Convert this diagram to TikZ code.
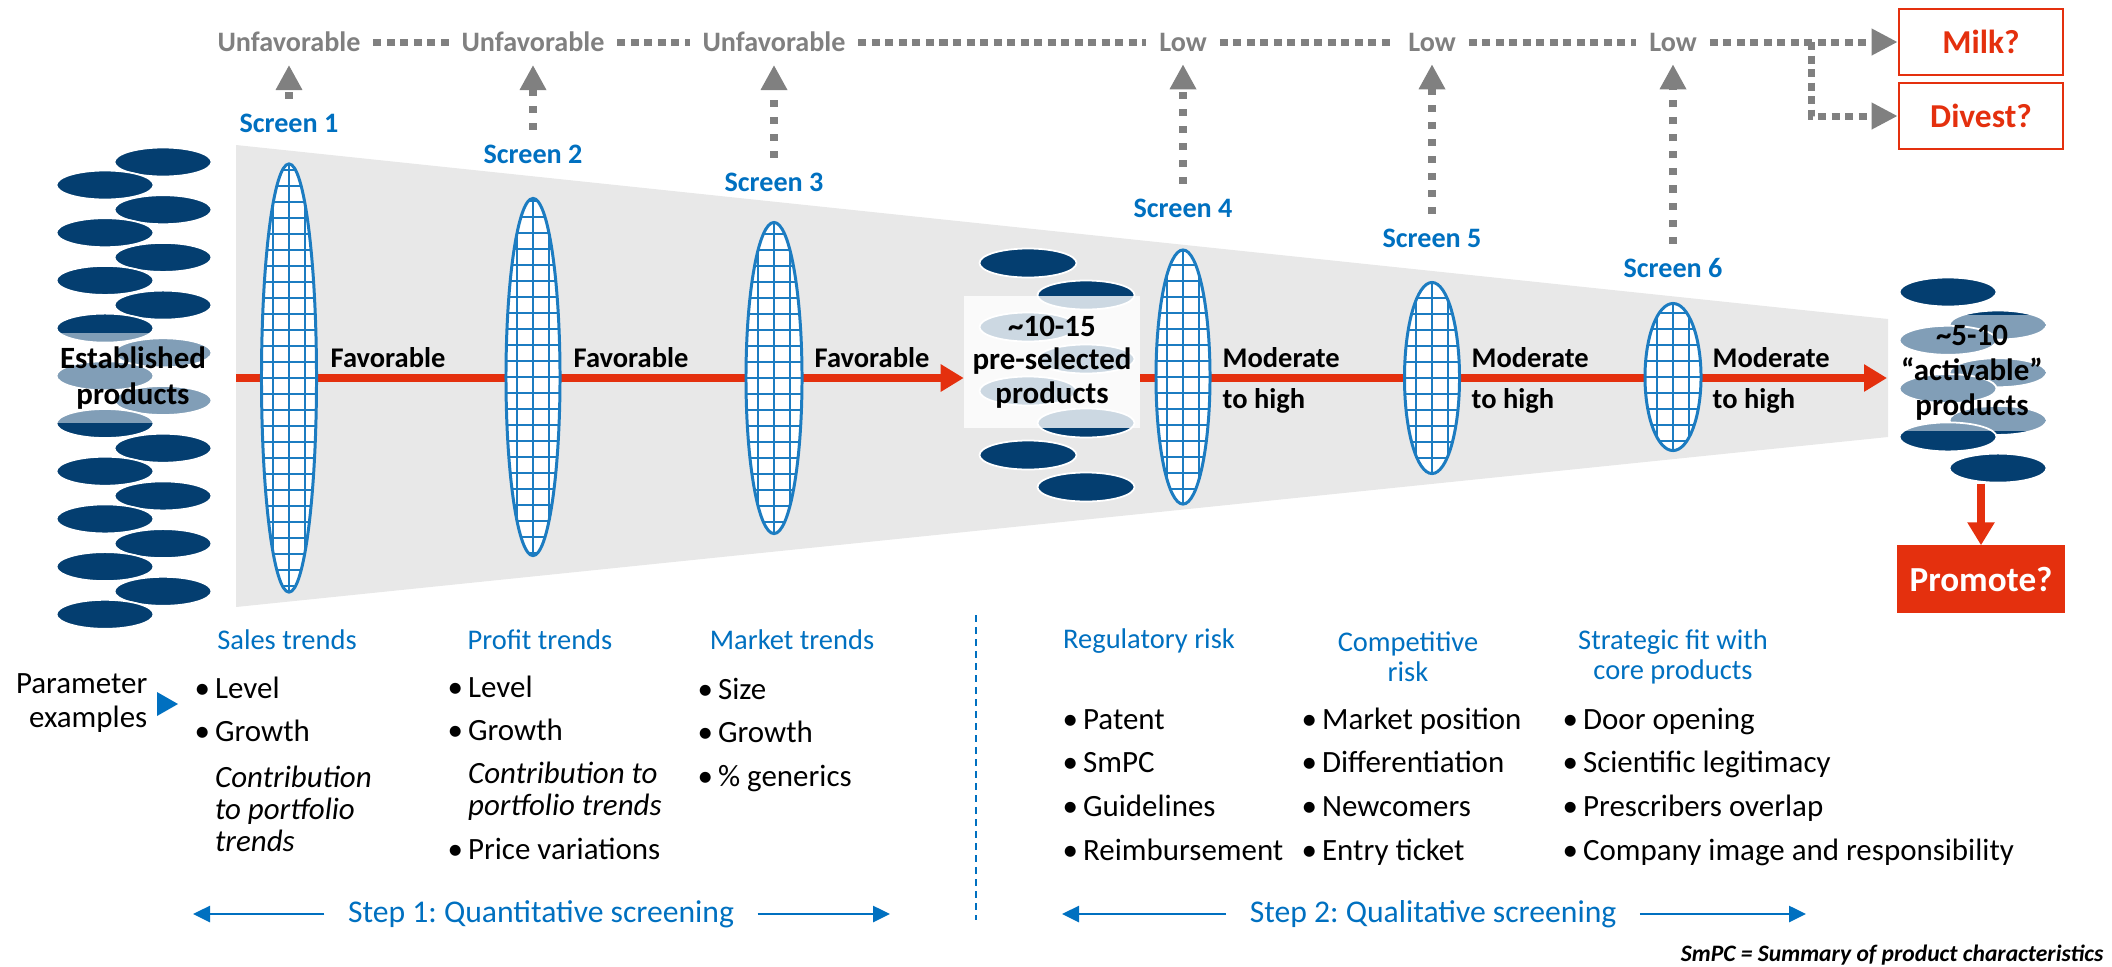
\documentclass[tikz,border=0pt]{standalone}
\usepackage{fontspec}
\setmainfont{Carlito}
\usetikzlibrary{arrows.meta,shapes.geometric,positioning,calc}
\frenchspacing

\definecolor{prodnavy}{RGB}{4,62,112}
\definecolor{scrblue}{RGB}{0,112,192}
\definecolor{gridblue}{RGB}{28,124,193}
\definecolor{flowred}{RGB}{228,48,14}
\definecolor{dotgray}{RGB}{128,128,128}
\definecolor{funnelgray}{RGB}{232,232,232}

\newcommand{\bul}{\textbullet\hspace{0.05cm}}
\newcommand{\ind}{\hphantom{\bul}}

\begin{document}
\begin{tikzpicture}[x=0.01cm, y=0.01cm,
    prod/.style={ellipse, fill=prodnavy, draw=white, line width=0.5pt, minimum width=0.97cm, minimum height=0.29cm, inner sep=0},
    ovl/.style={fill=white, text opacity=1, inner sep=0, align=center, font=\bfseries\fontsize{8.8}{10}\selectfont},
    scr/.style={ellipse, fill=white, draw=gridblue, line width=0.85pt, inner sep=0, path picture={
        \begin{scope}[shift={(path picture bounding box.center)}]
        \draw[gridblue, line width=0.5pt] (-64,-256) grid[step=0.16cm] (64,256);
        \end{scope}}},
    redarr/.style={draw=flowred, line width=0.08cm, -{Triangle[length=0.23cm, width=0.26cm]}},
    lbl/.style={anchor=west, inner sep=0, align=left, font=\bfseries\fontsize{8.1}{11.7}\selectfont},
    scrlbl/.style={text=scrblue, inner sep=4pt, font=\bfseries\fontsize{8}{9}\selectfont},
    toplbl/.style={text=dotgray, inner sep=3.5pt, font=\bfseries\fontsize{8}{9}\selectfont},
    dotln/.style={draw=dotgray, line width=0.07cm, dash pattern=on 0.08cm off 0.055cm},
    dotarr/.style={dotln, -{Triangle[length=0.26cm, width=0.25cm]}},
    uparr/.style={draw=dotgray, line width=0.075cm, dash pattern=on 0.07cm off 0.1cm, -{Triangle[length=0.25cm, width=0.25cm]}},
    outbox/.style={draw=flowred, line width=0.7pt, minimum width=1.64cm, minimum height=0.66cm, text=flowred, font=\bfseries\fontsize{9.5}{10}\selectfont},
    hdr/.style={text=scrblue, align=center, font=\fontsize{8.1}{8.6}\selectfont},
    itm/.style={anchor=base west, align=left, inner sep=0, font=\fontsize{8.8}{9.1}\selectfont},
    stepl/.style={text=scrblue, inner xsep=0.23cm, inner ysep=2pt, font=\fontsize{9}{10}\selectfont},
    bluarr/.style={draw=scrblue, line width=0.75pt, -{Triangle[length=0.17cm, width=0.16cm]}}
]
\useasboundingbox (0,0) rectangle (2112,-966);

\fill[funnelgray] (236,-145) -- (1888,-319) -- (1888,-437) -- (236,-607) -- cycle;

\coordinate (fl) at (236,-378);
\coordinate (fr) at (1887,-378);
\node[ovl, fill opacity=0, minimum width=1.75cm, minimum height=1.32cm] (prebox) at (1052,-362) {};
\draw[redarr] (fl) -- (fl -| prebox.west);
\draw[redarr] (fr -| prebox.east) -- (fr);

\node[scr, minimum width=0.55cm, minimum height=4.28cm] (s1) at (289,-378) {};
\node[scr, minimum width=0.54cm, minimum height=3.57cm] (s2) at (533,-377) {};
\node[scr, minimum width=0.56cm, minimum height=3.11cm] (s3) at (774,-378) {};
\node[scr, minimum width=0.54cm, minimum height=2.54cm] (s4) at (1183,-377) {};
\node[scr, minimum width=0.55cm, minimum height=1.91cm] (s5) at (1432,-378) {};
\node[scr, minimum width=0.56cm, minimum height=1.47cm] (s6) at (1673,-377) {};

\node[lbl] (f1) at (330,-358) {Favorable};
\node[lbl] (f2) at (573,-358) {Favorable};
\node[lbl] (f3) at (814,-358) {Favorable};
\node[lbl] (m4) at (1222,-380) {Moderate\\to high};
\node[lbl] (m5) at (1471,-380) {Moderate\\to high};
\node[lbl] (m6) at (1712,-380) {Moderate\\to high};

\foreach \k in {0,...,9} {
  \node[prod] (er\k) at (163,{-162-47.7*\k}) {};
  \node[prod] (el\k) at (105,{-185-47.7*\k}) {};
}
\node[ovl, fill opacity=0.5, minimum width=1.57cm, minimum height=0.9cm] (est) at (133,-378) {Established\\products};

\foreach \k in {0,...,3} {
  \node[prod] (pl\k) at (1028,{-263-64*\k}) {};
  \node[prod] (pr\k) at (1086,{-295-64*\k}) {};
}
\node[ovl, fill opacity=0.8, minimum width=1.75cm, minimum height=1.32cm, font=\bfseries\fontsize{8.8}{9.5}\selectfont] (pre) at (1052,-362) {\textasciitilde10-15\\pre-selected\\products};

\foreach \k in {0,...,3} {
  \node[prod] (al\k) at (1948,{-292-48.3*\k}) {};
  \node[prod] (ar\k) at (1998,{-325-47.7*\k}) {};
}
\node[ovl, fill opacity=0.5, minimum width=1.45cm, minimum height=1.15cm] (act) at (1972,-373) {\textasciitilde5-10\\``activable''\\products};

\node[toplbl] (u1) at (289,-42) {Unfavorable};
\node[toplbl] (u2) at (533,-42) {Unfavorable};
\node[toplbl] (u3) at (774,-42) {Unfavorable};
\node[toplbl] (w4) at (1183,-42) {Low};
\node[toplbl] (w5) at (1432,-42) {Low};
\node[toplbl] (w6) at (1673,-42) {Low};
\node[outbox] (milk) at (1981,-42) {Milk?};
\node[outbox] (divest) at (1981,-116) {Divest?};
\node[outbox, fill=flowred, text=white, minimum height=0.65cm, font=\bfseries\fontsize{10}{11}\selectfont] (prom) at (1981,-579) {Promote?};

\node[scrlbl] (sc1) at (289,-123) {Screen 1};
\node[scrlbl] (sc2) at (533,-154) {Screen 2};
\node[scrlbl] (sc3) at (774,-182) {Screen 3};
\node[scrlbl] (sc4) at (1183,-208) {Screen 4};
\node[scrlbl] (sc5) at (1432,-238) {Screen 5};
\node[scrlbl] (sc6) at (1673,-268) {Screen 6};

\draw[uparr] (sc1) -- (u1);
\draw[uparr] (sc2) -- (u2);
\draw[uparr] (sc3) -- (u3);
\draw[uparr] (sc4) -- (w4);
\draw[uparr] (sc5) -- (w5);
\draw[uparr] (sc6) -- (w6);

\draw[dotln] (u1) -- (u2);
\draw[dotln] (u2) -- (u3);
\draw[dotln] (u3) -- (w4);
\draw[dotln] (w4) -- (w5);
\draw[dotln] (w5) -- (w6);
\draw[dotarr] (w6) -- (milk);
\coordinate (br) at (1811,-42);
\draw[dotarr] (br) |- (divest);

\draw[redarr] (ar3.south -| prom.north) -- (prom.north);

\node[hdr] (h1) at (287,-640) {Sales trends};
\node[hdr] (h2) at (540,-640) {Profit trends};
\node[hdr] (h3) at (792,-640) {Market trends};
\node[hdr] (h4) at (1149,-641) {Regulatory risk};
\node[hdr] (h5) at (1408,-657) {Competitive\\risk};
\node[hdr] (h6) at (1673,-657) {Strategic fit with\\core products};

\node[anchor=east, align=right, inner sep=0, font=\fontsize{8.8}{9.7}\selectfont] (par) at (148,-703) {Parameter\\examples};
\fill[scrblue] (157,-692) -- (178,-704) -- (157,-716) -- cycle;

\node[itm] (c1) at (194,-851) {\bul Level\\[3pt]\bul Growth\\[3.9pt]\ind\textit{Contribution}\\\ind\textit{to portfolio}\\\ind\textit{trends}};
\node[itm] (c2) at (447,-859) {\bul Level\\[3pt]\bul Growth\\[3pt]\ind\textit{Contribution to}\\\ind\textit{portfolio trends}\\[3.4pt]\bul Price variations};
\node[itm] (c3) at (697,-786) {\bul Size\\[3pt]\bul Growth\\[3.3pt]\bul\% generics};
\node[itm] (c4) at (1062,-860) {\bul Patent\\[3.3pt]\bul SmPC\\[3.3pt]\bul Guidelines\\[3.3pt]\bul Reimbursement};
\node[itm] (c5) at (1301,-860) {\bul Market position\\[3.3pt]\bul Differentiation\\[3.3pt]\bul Newcomers\\[3.3pt]\bul Entry ticket};
\node[itm] (c6) at (1562,-860) {\bul Door opening\\[3.3pt]\bul Scientific legitimacy\\[3.3pt]\bul Prescribers overlap\\[3.3pt]\bul Company image and responsibility};

\draw[scrblue, line width=0.6pt, dash pattern=on 0.07cm off 0.05cm] (976,-615) -- (976,-920);

\node[stepl] (st1) at (541,-914) {Step 1: Quantitative screening};
\node[stepl] (st2) at (1433,-914) {Step 2: Qualitative screening};
\coordinate (st1l) at (193,-914);
\coordinate (st1r) at (890,-914);
\coordinate (st2l) at (1062,-914);
\coordinate (st2r) at (1806,-914);
\draw[bluarr] (st1) -- (st1l);
\draw[bluarr] (st1) -- (st1r);
\draw[bluarr] (st2) -- (st2l);
\draw[bluarr] (st2) -- (st2r);

\node[anchor=base east, inner sep=0, font=\bfseries\itshape\fontsize{6.7}{8}\selectfont] (fn) at (2104,-961) {SmPC = Summary of product characteristics};
\end{tikzpicture}
\end{document}
